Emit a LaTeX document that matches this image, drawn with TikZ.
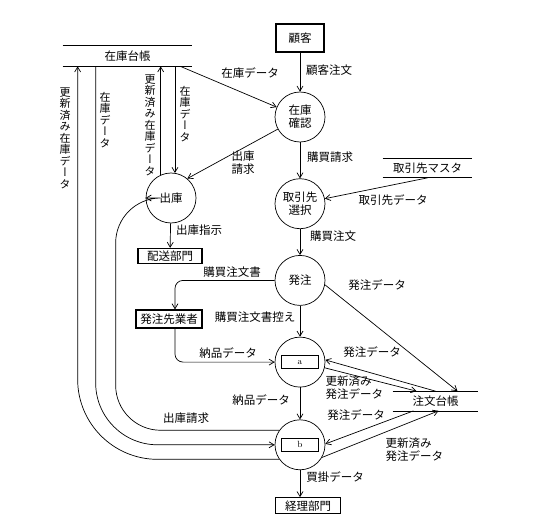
\documentclass[tikz,border=0pt]{standalone}
\usepackage{fontspec}
\newfontfamily\jp{Noto Sans CJK JP}
\newfontfamily\jpv[RawFeature=+vert]{Noto Sans CJK JP}
\usetikzlibrary{positioning,arrows.meta}

\begin{document}
\begin{tikzpicture}[x=1bp,y=-1bp,line width=0.7bp,
    >={Straight Barb[length=5bp,width=6bp]},
    every node/.style={font=\jp\fontsize{11.5bp}{13bp}\selectfont},
    proc/.style={draw,circle,minimum size=50bp,inner sep=0,align=center},
    ext/.style={draw,line width=1.3bp,inner sep=0,minimum height=16bp},
    datastore/.style={inner sep=0,minimum height=19bp},
    slot/.style={draw,line width=1.3bp,inner sep=0,minimum width=37bp,minimum height=13bp,font=\rmfamily\small},
    vlab/.style={align=center,inner sep=0,font=\jpv\fontsize{11bp}{11.5bp}\selectfont}]
\useasboundingbox (0,0) rectangle (533,525);

% processes down the middle
\node[ext,minimum width=48bp,minimum height=28bp] (kokyaku) at (300,38) {顧客};
\node[proc,below=39bp of kokyaku] (kakunin) {在庫\\確認};
\node[proc,below=36bp of kakunin] (sentaku) {取引先\\選択};
\node[proc,below=26bp of sentaku] (hacchu) {発注};
\node[proc,below=31bp of hacchu] (a) {};
\node[proc,below=32bp of a] (b) {};
\node[slot] (abox) at (a) {a};
\node[slot] (bbox) at (b) {b};
\node[ext,below=27bp of b,xshift=8bp,minimum width=65bp] (keiri) {経理部門};

\node[proc] (shukko) at (171,198) {出庫};
\node[ext,minimum width=64bp,minimum height=15bp] (haiso) at (170,256) {配送部門};
\node[ext,minimum width=66bp,minimum height=18bp] (gyosha) at (169,319) {発注先業者};

% data stores
\node[datastore,minimum width=129bp,minimum height=20bp] (zaiko) at (127.5,56) {在庫台帳};
\node[datastore,minimum width=89bp] (master) at (427.5,168) {取引先マスタ};
\node[datastore,minimum width=85bp] (chumon) at (435.5,401) {注文台帳};
\foreach \s in {zaiko,master,chumon}
    \draw (\s.north west) -- (\s.north east) (\s.south west) -- (\s.south east);

% flows
\draw[->] (kokyaku) -- (kakunin);
\draw[->] (kakunin) -- (sentaku);
\draw[->] (sentaku) -- (hacchu);
\draw[->] (hacchu) -- (a);
\draw[->] (a) -- (b);
\draw[->] (b.south) -- (b.south |- keiri.north);
\draw[->] (shukko) -- (haiso);
\draw[->] ([xshift=-12bp]zaiko.south east) -- (kakunin);
\draw[->] (kakunin) -- (shukko.50);
\draw[->] (master.south) -- (sentaku);
\draw[->] (shukko.114) -- (shukko.114 |- zaiko.south);
\draw[->] (shukko.81 |- zaiko.south) -- (shukko.81);
\draw[->,rounded corners=8bp] (hacchu.west) -| ([xshift=6bp]gyosha.north);
\draw[->,rounded corners=8bp] ([xshift=6bp]gyosha.south) |- (a.west);
\draw[->] (hacchu.-10) -- ([xshift=22bp]chumon.north);
\draw[->] (chumon.north) -- (a.5);
\draw[->] (a.-13) -- ([xshift=-19bp]chumon.north);
\draw[->] ([xshift=-22bp]chumon.south) -- (b.2);
\draw[->] (b.-30) -- ([xshift=3bp]chumon.south);
\draw[->] (b.145) [rounded corners=45bp] -| ([xshift=-30bp]shukko.west) [rounded corners=12bp] -- (shukko.west);
\draw[->,rounded corners=62bp] ([xshift=33bp]zaiko.south west) |- (b.west);
\draw[->,rounded corners=80bp] (b.215) -| ([xshift=15bp]zaiko.south west);

% labels
\node (lkokyaku) at (329,70) {顧客注文};
\node (lzaiko) at (250,73) {在庫データ};
\node (lkobai) at (330,157) {購買請求};
\node[align=center] (lshukko) at (243,163) {出庫\\請求};
\node (ltorihiki) at (393,200) {取引先データ};
\node (lkobaichu) at (333,236) {購買注文};
\node (lshiji) at (199,230) {出庫指示};
\node (lsho) at (232,272) {購買注文書};
\node (lhikae) at (255,317) {購買注文書控え};
\node (lnohin) at (228,353) {納品データ};
\node (lhacchu) at (377,285) {発注データ};
\node (lhacchua) at (372,352) {発注データ};
\node[align=left,anchor=west] (lkoshina) at (322,388) {更新済み\\発注データ};
\node (lnohinb) at (261,400) {納品データ};
\node (lhacchub) at (356,415) {発注データ};
\node (lseikyu) at (186,418) {出庫請求};
\node[align=left,anchor=west] (lkoshinb) at (382,450) {更新済み\\発注データ};
\node (lkaikake) at (335,477) {買掛データ};
\node[vlab] (vkoshin) at (65,138) {更\\新\\済\\み\\在\\庫\\デ\\ー\\タ};
\node[vlab] (vzaiko) at (105,120) {在\\庫\\デ\\ー\\タ};
\node[vlab] (vkoshins) at (150,125) {更\\新\\済\\み\\在\\庫\\デ\\ー\\タ};
\node[vlab] (vzaikos) at (185,114) {在\\庫\\デ\\ー\\タ};
\end{tikzpicture}
\end{document}
